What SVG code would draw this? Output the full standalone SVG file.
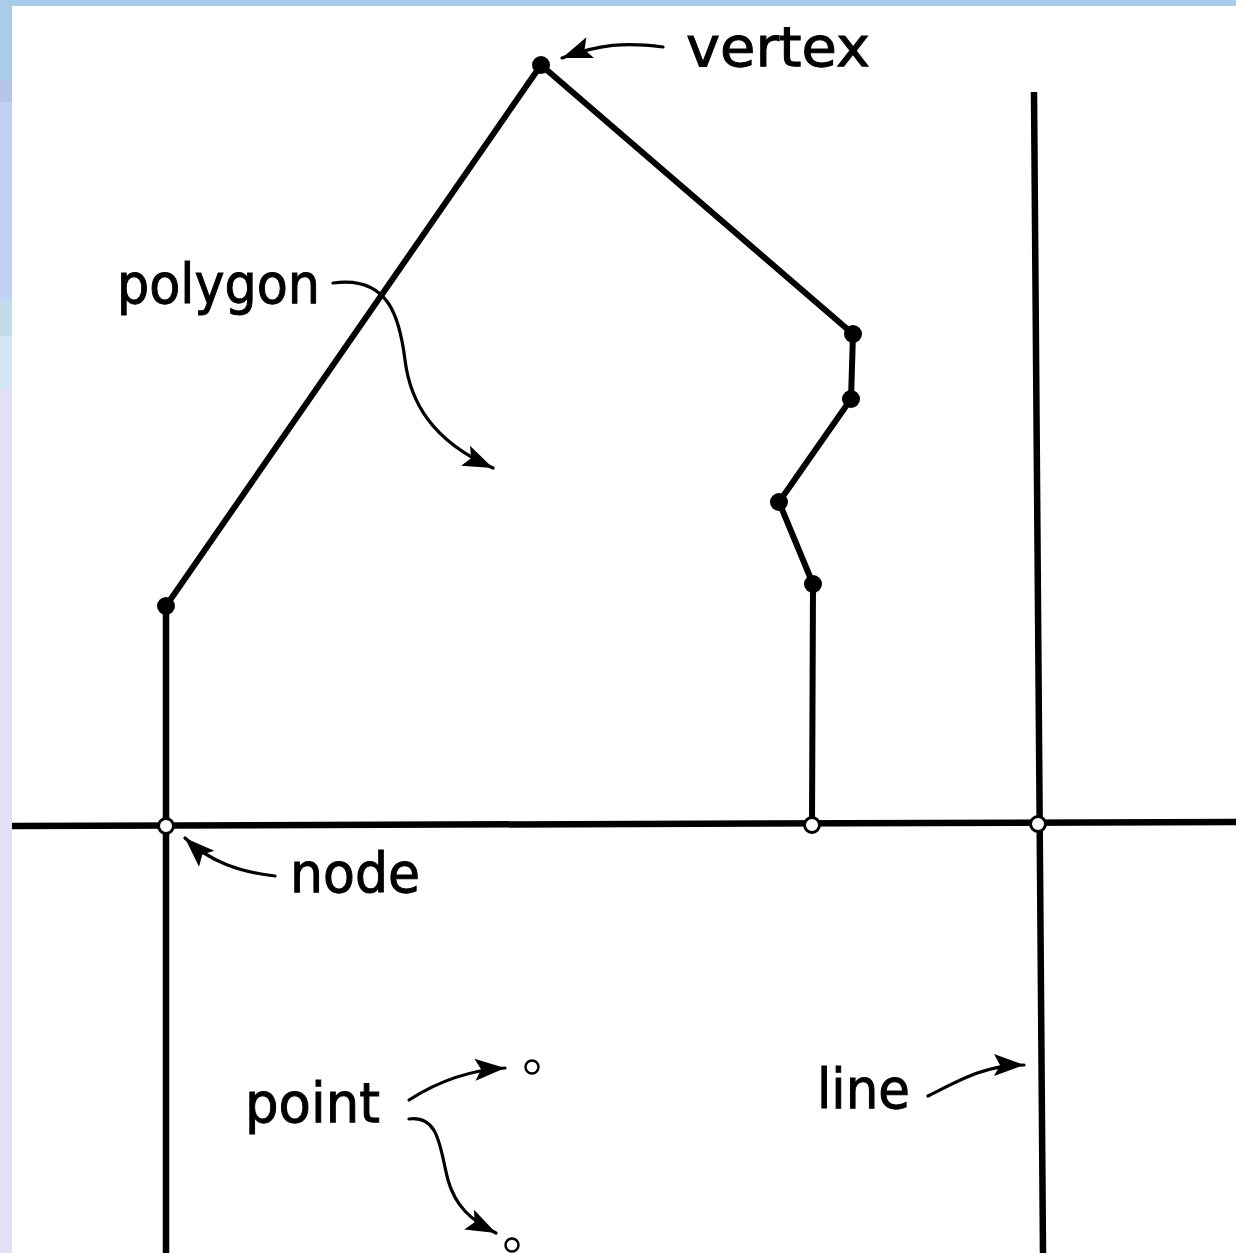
<svg xmlns="http://www.w3.org/2000/svg" width="1236" height="1253" viewBox="0 0 1236 1253">
  <style>
    .edge { fill: none; stroke: #000; stroke-width: 6; stroke-linecap: round; stroke-linejoin: round; }
    .axis { fill: none; stroke: #000; stroke-width: 6.5; }
    .vtx { fill: #000; }
    .nd { fill: #fff; stroke: #000; stroke-width: 3; }
    .pt { fill: #fff; stroke: #000; stroke-width: 2.5; }
    .ptr { fill: none; stroke: #000; stroke-width: 3.2; stroke-linecap: round; }
    .lbl { font-family: "DejaVu Sans", "Liberation Sans", sans-serif; font-size: 55px; fill: #000; stroke: #000; stroke-width: 1; }
  </style>
  <defs>
    <marker id="head" markerUnits="userSpaceOnUse" markerWidth="34" markerHeight="24" refX="30" refY="11" orient="auto" overflow="visible">
      <path d="M0,0 L30,11 L0,22 L6,11 z" fill="#000"/>
    </marker>
  </defs>

  <!-- page background and frame strips -->
  <rect width="1236" height="1253" fill="#fff"/>
  <rect x="0" y="0" width="1236" height="6" fill="#a8cde9"/>
  <rect x="0" y="0" width="12" height="80" fill="#a8cce9"/>
  <rect x="0" y="80" width="12" height="22" fill="#b4c5ea"/>
  <rect x="0" y="102" width="12" height="198" fill="#c0d3f4"/>
  <rect x="0" y="300" width="12" height="36" fill="#c4dbec"/>
  <rect x="0" y="336" width="12" height="52" fill="#d2e6f4"/>
  <rect x="0" y="388" width="12" height="865" fill="#e2dff6"/>

  <!-- lines and polygon edges -->
  <g id="lines">
    <line class="axis" x1="12" y1="826" x2="1236" y2="822"/>
    <line class="axis" x1="166" y1="606" x2="166" y2="1253"/>
    <line class="axis" x1="1034" y1="92" x2="1043" y2="1253"/>
    <polyline class="edge" points="166,606 541,65 853,334 851,399 779,502 813,584 812,825"/>
  </g>

  <!-- polygon vertices -->
  <g id="vertices">
    <circle class="vtx" cx="166" cy="606" r="9"/>
    <circle class="vtx" cx="541" cy="65" r="9"/>
    <circle class="vtx" cx="853" cy="334" r="9"/>
    <circle class="vtx" cx="851" cy="399" r="9"/>
    <circle class="vtx" cx="779" cy="502" r="9"/>
    <circle class="vtx" cx="813" cy="584" r="9"/>
  </g>

  <!-- nodes where lines cross -->
  <g id="nodes">
    <circle class="nd" cx="166" cy="826" r="7.5"/>
    <circle class="nd" cx="812" cy="825" r="7.5"/>
    <circle class="nd" cx="1038" cy="824" r="7.5"/>
  </g>

  <!-- free points -->
  <g id="points">
    <circle class="pt" cx="532" cy="1067" r="6.5"/>
    <circle class="pt" cx="512" cy="1245" r="6.5"/>
  </g>

  <!-- labels -->
  <g id="label-vertex"><text class="lbl" x="686" y="66" textLength="184" lengthAdjust="spacingAndGlyphs">vertex</text></g>
  <g id="label-polygon"><text class="lbl" x="117" y="303" textLength="203" lengthAdjust="spacingAndGlyphs">polygon</text></g>
  <g id="label-node"><text class="lbl" x="290" y="892" textLength="130" lengthAdjust="spacingAndGlyphs">node</text></g>
  <g id="label-point"><text class="lbl" x="245" y="1122" textLength="135" lengthAdjust="spacingAndGlyphs">point</text></g>
  <g id="label-line"><text class="lbl" x="817" y="1108" textLength="93" lengthAdjust="spacingAndGlyphs">line</text></g>

  <!-- pointer arrows -->
  <g id="pointers">
    <path class="ptr" marker-end="url(#head)" d="M663,47 C625,42 600,44 562,58"/>
    <path class="ptr" marker-end="url(#head)" d="M333,283 C390,275 400,320 405,360 C410,400 430,440 493,468"/>
    <path class="ptr" marker-end="url(#head)" d="M275,876 C240,872 210,862 185,838"/>
    <path class="ptr" marker-end="url(#head)" d="M409,1100 C440,1080 470,1070 505,1068"/>
    <path class="ptr" marker-end="url(#head)" d="M409,1119 C440,1115 440,1150 448,1180 C455,1205 470,1220 496,1233"/>
    <path class="ptr" marker-end="url(#head)" d="M928,1096 C960,1080 985,1065 1024,1065"/>
  </g>
</svg>
